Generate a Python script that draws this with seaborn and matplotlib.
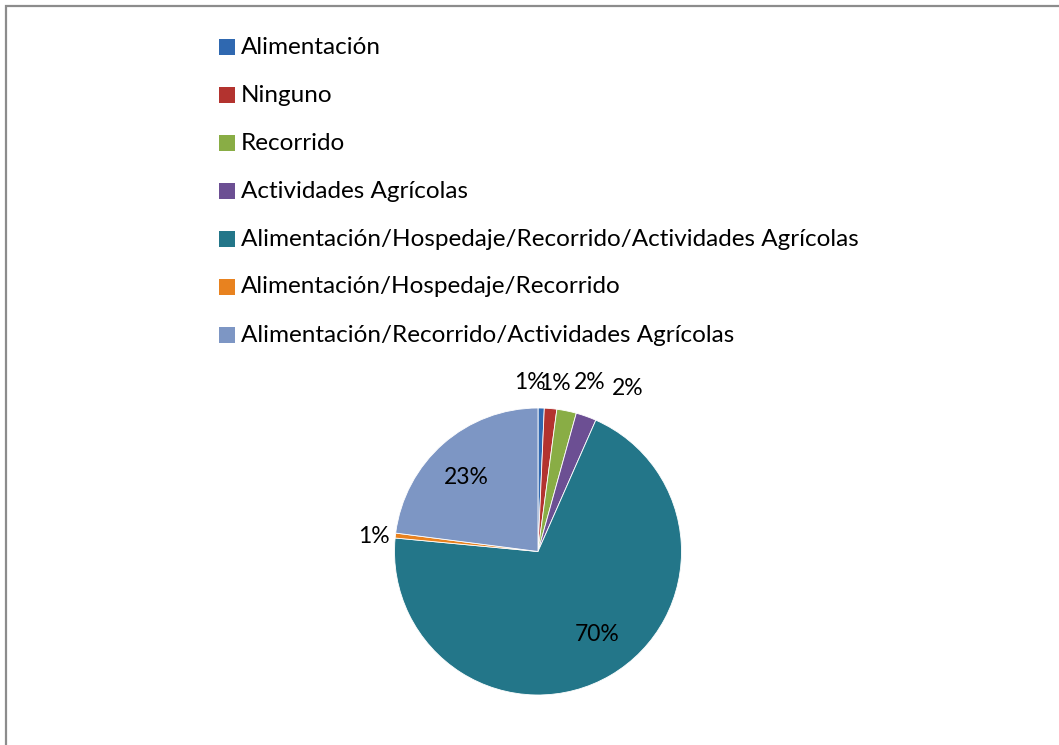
import numpy as np
import matplotlib
matplotlib.use("Agg")
import matplotlib.pyplot as plt
import seaborn as sns
from matplotlib.patches import Rectangle

# datos
categorias = [
    "Alimentación",
    "Ninguno",
    "Recorrido",
    "Actividades Agrícolas",
    "Alimentación/Hospedaje/Recorrido/Actividades Agrícolas",
    "Alimentación/Hospedaje/Recorrido",
    "Alimentación/Recorrido/Actividades Agrícolas",
]
porcentajes = [0.7, 1.4, 2.2, 2.3, 69.9, 0.55, 22.95]
etiquetas = ["1%", "1%", "2%", "2%", "70%", "1%", "23%"]

colores = ["#2f68b0", "#b3332f", "#89ad45", "#6c4f93", "#237689", "#e8821f", "#7d96c4"]
# distancia radial y giro (grados) de cada etiqueta
dist_etq = [1.18, 1.18, 1.23, 1.30, 0.71, 1.15, 0.72]
giro_etq = [4.0, -0.7, -5.6, -9.2, 4.8, 1.3, 2.7]

sns.set_theme(style="white")
plt.rcParams["font.family"] = ["Lato", "DejaVu Sans"]

W, H = 1059, 745
fig = plt.figure(figsize=(W / 100, H / 100), dpi=100)
fig.patch.set_facecolor("white")

# marco del area del grafico
fig.patches.append(Rectangle((6 / W, -0.1), 1.2, (H - 6) / H + 0.1, transform=fig.transFigure,
                             fill=False, edgecolor="#8c8c8c", linewidth=1.6))

cx, cy, r = 538, H - 551.5, 143.5
side = 2.5 * r
ax = fig.add_axes([(cx - side / 2) / W, (cy - side / 2) / H, side / W, side / H])
wedges, _ = ax.pie(porcentajes, colors=colores, startangle=90, counterclock=False,
                   radius=1.0, wedgeprops=dict(linewidth=0.6, edgecolor="white"))

for w, txt, d, g in zip(wedges, etiquetas, dist_etq, giro_etq):
    ang = np.deg2rad((w.theta1 + w.theta2) / 2 + g)
    ax.text(d * np.cos(ang), d * np.sin(ang), txt, ha="center", va="center",
            fontsize=16.5, color="black")

# leyenda a la manera de Excel
for i, (cat, col) in enumerate(zip(categorias, colores)):
    yc = H - (47 + 48 * i)
    fig.patches.append(Rectangle((219 / W, (yc - 8) / H), 16 / W, 16 / H,
                                 transform=fig.transFigure, facecolor=col, edgecolor="none"))
    fig.text(241 / W, yc / H, cat, ha="left", va="center", fontsize=17.5, color="black")

fig.savefig("out.png", dpi=100)
